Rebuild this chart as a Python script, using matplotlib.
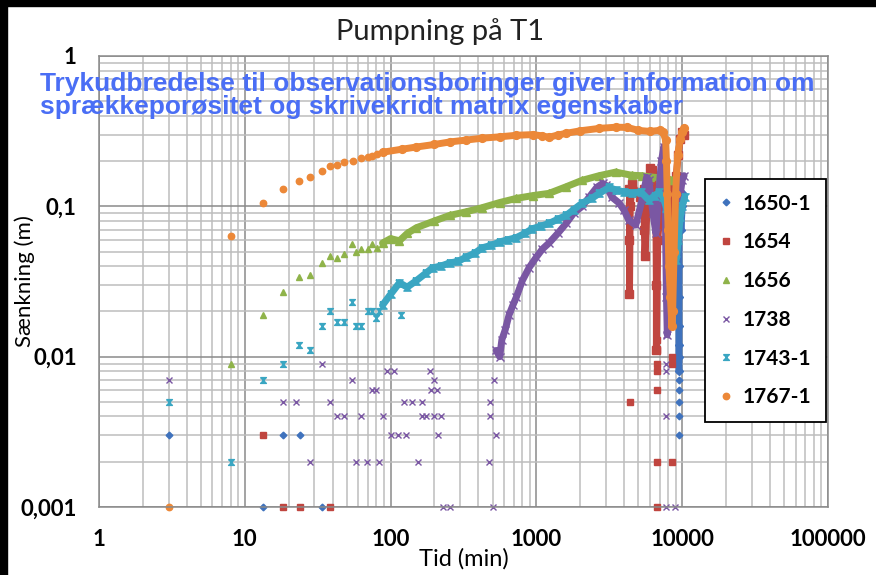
import numpy as np
import matplotlib.pyplot as plt
from matplotlib.lines import Line2D
from matplotlib.path import Path
from matplotlib.patches import Rectangle
from matplotlib.ticker import LogLocator, FixedLocator, FixedFormatter, NullFormatter

# Sænkning (m) mod tid (min) for hver observationsboring.
# "_t/_s" = enkeltstående målinger, "_bt/_bs" = tætte måleserier.
labels = ['1650-1', '1654', '1656', '1738', '1743-1', '1767-1']

b1650_t = [3, 13.3, 18.2, 23.8, 33.6, 9500, 9500, 9500, 9500, 9500]
b1650_s = [0.003, 0.001, 0.003, 0.003, 0.001, 0.003, 0.004, 0.005, 0.006, 0.007]
b1650_bt = [9500, 9500, 9500, 9500, 9500, 9500, 9500, 9550, 9600, 9700, 9800, 10000, 10200]
b1650_bs = [0.008, 0.01, 0.012, 0.016, 0.025, 0.04, 0.07, 0.1, 0.11, 0.09, 0.07, 0.1, 0.12]

b1654_t = [13.3, 18.2, 23.8, 38.7, 4400, 6700, 6700, 6700, 6700, 6700, 6700, 6700, 8500, 8500, 8500]
b1654_s = [0.003, 0.001, 0.001, 0.001, 0.005, 0.001, 0.002, 0.006, 0.008, 0.009, 0.011, 0.013, 0.009, 0.01, 0.002]
b1654_bt = [4350, 4350, 4350, 4400, 4550, 4800, 5100, 5450, 5500, 5550, 5800, 6000, 6200, 6500, 6600,
            6650, 6650, 6800, 7200, 8000, 8500, 8800, 9100, 9400, 9700, 10000, 10300]
b1654_bs = [0.13, 0.06, 0.026, 0.1, 0.14, 0.125, 0.115, 0.13, 0.07, 0.047, 0.12, 0.18, 0.175, 0.15, 0.09,
            0.03, 0.011, 0.06, 0.12, 0.13, 0.05, 0.1, 0.16, 0.22, 0.28, 0.31, 0.3]

b1656_t = [8, 13.3, 18.2, 23.4, 28, 33.6, 38.7, 43, 48, 54, 58, 63, 70, 75, 81]
b1656_s = [0.009, 0.019, 0.027, 0.034, 0.035, 0.042, 0.047, 0.045, 0.048, 0.056, 0.05, 0.052, 0.052, 0.056, 0.053]
b1656_bt = [88, 100, 115, 130, 150, 200, 254, 330, 425, 560, 730, 950, 1220, 1600, 2060, 2700, 3500,
            4500, 5300, 6000, 7000, 7700, 8300, 8800]
b1656_bs = [0.057, 0.061, 0.059, 0.066, 0.072, 0.08, 0.087, 0.092, 0.098, 0.106, 0.113, 0.118, 0.122,
            0.135, 0.149, 0.16, 0.169, 0.161, 0.16, 0.157, 0.155, 0.154, 0.15, 0.15]

b1738_t = [3, 18.2, 22.6, 28, 33.6, 38.7, 42.6, 48, 54, 58, 63, 69, 75, 80, 83, 88, 94, 100, 106, 113,
           124, 128, 141, 153, 163, 165, 176, 185, 190, 199, 207, 199, 210, 222, 228, 254, 475, 480,
           480, 500, 515, 525, 7800, 7800, 7800, 7800, 7800, 8900]
b1738_s = [0.007, 0.005, 0.005, 0.002, 0.009, 0.005, 0.004, 0.004, 0.007, 0.002, 0.004, 0.002, 0.006,
           0.006, 0.002, 0.004, 0.008, 0.003, 0.008, 0.003, 0.005, 0.003, 0.005, 0.002, 0.005, 0.004,
           0.004, 0.008, 0.006, 0.007, 0.006, 0.004, 0.003, 0.004, 0.001, 0.001, 0.002, 0.005, 0.004,
           0.001, 0.007, 0.003, 0.009, 0.008, 0.004, 0.001, 0.014, 0.001]
b1738_bt = [530, 560, 580, 610, 650, 690, 730, 800, 890, 1000, 1100, 1220, 1400, 1600, 1800, 2060,
            2300, 2600, 2850, 3000, 3300, 3700, 4000, 4300, 4800, 5300, 5700, 5900, 6300, 6600, 6900,
            7200, 7500, 7600, 7700, 7800, 7900, 8800, 9100, 9400, 9700, 10000, 10300]
b1738_bs = [0.011, 0.01, 0.013, 0.015, 0.019, 0.022, 0.025, 0.032, 0.039, 0.046, 0.052, 0.057, 0.066,
            0.077, 0.09, 0.1, 0.115, 0.134, 0.142, 0.138, 0.115, 0.105, 0.094, 0.081, 0.075, 0.11,
            0.156, 0.15, 0.09, 0.066, 0.122, 0.2, 0.25, 0.15, 0.06, 0.025, 0.014, 0.06, 0.08, 0.1,
            0.12, 0.15, 0.16]

b1743_t = [3, 8, 13.3, 18.2, 23.4, 28, 33.6, 38.7, 43, 48, 54, 58, 63, 70, 75, 80, 83, 118]
b1743_s = [0.005, 0.002, 0.007, 0.009, 0.012, 0.011, 0.016, 0.02, 0.017, 0.017, 0.023, 0.016, 0.016,
           0.02, 0.02, 0.018, 0.02, 0.019]
b1743_bt = [88, 100, 115, 130, 150, 175, 194, 220, 254, 290, 330, 380, 425, 490, 560, 640, 730, 830,
            940, 1080, 1220, 1400, 1600, 1800, 2060, 2400, 2700, 3170, 3500, 4000, 4500, 5200, 5900,
            6500, 6900, 7400, 7800, 8200, 8500, 8800, 9100, 9400, 9700, 10000, 10400]
b1743_bs = [0.022, 0.026, 0.031, 0.029, 0.032, 0.036, 0.039, 0.04, 0.042, 0.043, 0.046, 0.049, 0.053,
            0.055, 0.058, 0.06, 0.062, 0.066, 0.071, 0.074, 0.077, 0.082, 0.087, 0.095, 0.105, 0.113,
            0.122, 0.134, 0.128, 0.125, 0.122, 0.125, 0.11, 0.118, 0.124, 0.115, 0.098, 0.07, 0.053,
            0.047, 0.044, 0.06, 0.085, 0.1, 0.115]

b1767_t = [3, 8, 13.3, 18.2, 23.4, 28.2, 33.6, 38.7, 43, 48, 55, 63, 70, 75, 81]
b1767_s = [0.001, 0.063, 0.106, 0.13, 0.147, 0.156, 0.171, 0.185, 0.188, 0.196, 0.2, 0.209, 0.212,
           0.215, 0.222]
b1767_bt = [88, 120, 150, 200, 254, 330, 425, 560, 730, 950, 1100, 1220, 1400, 1600, 2000, 2700, 3500,
            4200, 5000, 6000, 7000, 7400, 7700, 7800, 7900, 8000, 8100, 8300, 8500, 8600, 8800, 9000,
            9300, 9700, 10000, 10300]
b1767_bs = [0.229, 0.24, 0.248, 0.258, 0.268, 0.276, 0.284, 0.29, 0.297, 0.3, 0.294, 0.288, 0.298,
            0.306, 0.318, 0.33, 0.336, 0.335, 0.32, 0.315, 0.32, 0.31, 0.276, 0.2, 0.12, 0.07, 0.04,
            0.025, 0.016, 0.02, 0.05, 0.12, 0.22, 0.28, 0.31, 0.33]

x_ticks = [1, 10, 100, 1000, 10000, 100000]
x_ticklabels = ['1', '10', '100', '1000', '10000', '100000']
y_ticks = [0.001, 0.01, 0.1, 1]
y_ticklabels = ['0,001', '0,01', '0,1', '1']

colors = ['#3f72bd', '#c0453f', '#8fb34a', '#7a57a3', '#3aa6c2', '#ec8838']

# timeglas-markør (x med vandrette streger) til 1743-1
hourglass = Path([(-1, 1), (1, 1), (-1, -1), (1, -1), (-1, 1)])
markers = ['D', 's', '^', 'x', hourglass, 'o']
msizes = [3.4, 4.2, 4.4, 4.4, 4.2, 4.6]

series = [
    (b1650_t, b1650_s, b1650_bt, b1650_bs),
    (b1654_t, b1654_s, b1654_bt, b1654_bs),
    (b1656_t, b1656_s, b1656_bt, b1656_bs),
    (b1738_t, b1738_s, b1738_bt, b1738_bs),
    (b1743_t, b1743_s, b1743_bt, b1743_bs),
    (b1767_t, b1767_s, b1767_bt, b1767_bs),
]

W, H = 876, 575
fig = plt.figure(figsize=(W / 100, H / 100), dpi=100)
fig.patch.set_facecolor('white')
ax = fig.add_axes([99 / W, 1 - 507 / H, 729 / W, 451 / H])

for (t, s, bt, bs), c, m, ms in zip(series, colors, markers, msizes):
    ax.plot(t, s, ls='none', marker=m, ms=ms, color=c, mec=c, mew=1.0, clip_on=False)
    ax.plot(bt, bs, '-', lw=5, color=c, marker=m, ms=ms + 1, mec=c, mew=1.0,
            solid_joinstyle='round', solid_capstyle='round')

ax.set_xscale('log')
ax.set_yscale('log')
ax.set_xlim(1, 100000)
ax.set_ylim(0.001, 1)

ax.xaxis.set_major_locator(FixedLocator(x_ticks))
ax.xaxis.set_major_formatter(FixedFormatter(x_ticklabels))
ax.yaxis.set_major_locator(FixedLocator(y_ticks))
ax.yaxis.set_major_formatter(FixedFormatter(y_ticklabels))
for axis in (ax.xaxis, ax.yaxis):
    axis.set_minor_locator(LogLocator(base=10, subs=np.arange(2, 10), numticks=20))
    axis.set_minor_formatter(NullFormatter())

ax.grid(which='major', color='#8a8a8a', lw=1.1)
ax.grid(which='minor', color='#bdbdbd', lw=1.1)
ax.set_axisbelow(True)
for sp in ax.spines.values():
    sp.set_color('#8a8a8a')
    sp.set_linewidth(1.1)

ax.tick_params(which='both', length=0)
ax.tick_params(axis='y', pad=16)
ax.tick_params(axis='x', pad=16)
for lab in ax.get_xticklabels() + ax.get_yticklabels():
    lab.set_family('Lato')
    lab.set_fontweight('bold')
    lab.set_fontsize(16)

ax.set_xlabel('Tid (min)', family='Lato', fontsize=17)
ax.set_ylabel('Sænkning (m)', family='Lato', fontsize=16)
ax.xaxis.set_label_coords(0.5, -0.09)
ax.yaxis.set_label_coords(-0.088, 0.5)

handles = [Line2D([], [], ls='none', marker=m, color=c, mec=c, ms=ms)
           for c, m, ms in zip(colors, markers, msizes)]
leg = ax.legend(handles, labels, loc='upper left', bbox_to_anchor=(0.831, 0.727),
                borderaxespad=0, fancybox=False, framealpha=1, edgecolor='black',
                borderpad=0.7, labelspacing=0.9, handlelength=0.6, handletextpad=0.5,
                prop=dict(family='Lato', weight='bold', size=15))
leg.get_frame().set_linewidth(1.3)

fig.text(440 / W, 1 - 18 / H, 'Pumpning på T1', ha='center', va='top',
         family='Lato', fontsize=21, color='#222222')

fig.text(40 / W, 1 - 72 / H,
         'Trykudbredelse til observationsboringer giver information om\n'
         'sprækkeporøsitet og skrivekridt matrix egenskaber',
         ha='left', va='top', family='Liberation Sans', fontweight='bold',
         fontsize=19, color='#4a6ef5', linespacing=0.95)

# sort ramme i venstre og øverste kant
fig.patches.append(Rectangle((0, 0), 7 / W, 1, transform=fig.transFigure,
                             color='black', zorder=10))
fig.patches.append(Rectangle((0, 1 - 6 / H), 1, 6 / H, transform=fig.transFigure,
                             color='black', zorder=10))

fig.savefig('out.png', dpi=100, facecolor=fig.get_facecolor())
